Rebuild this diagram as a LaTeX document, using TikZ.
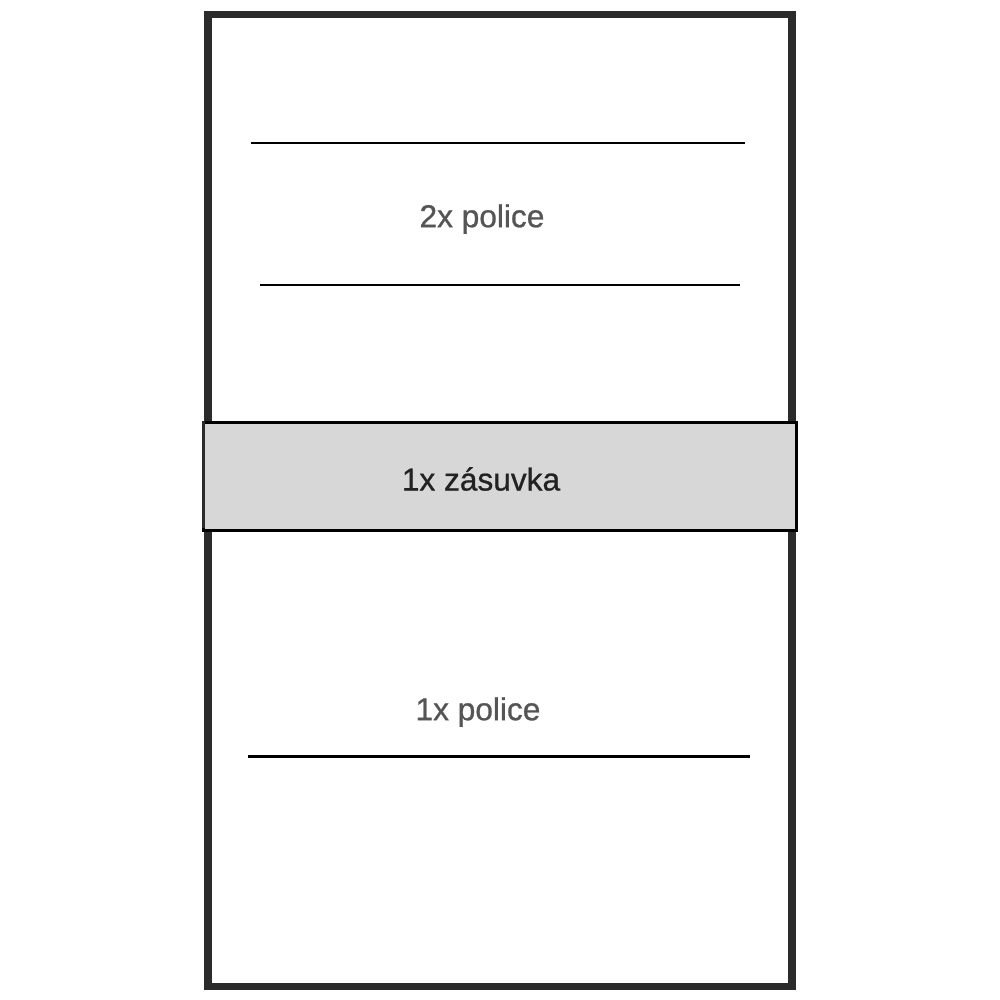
\documentclass[tikz,border=0pt]{standalone}
\usepackage{fontspec}
\setmainfont{Liberation Sans}
\definecolor{frame}{HTML}{2B2B2B}
\definecolor{drawerfill}{HTML}{D7D7D7}
\definecolor{lbl}{HTML}{555555}
\definecolor{lbldark}{HTML}{222222}
\begin{document}
\begin{tikzpicture}[x=0.01cm,y=-0.01cm,
  shelf/.style={line width=0.85pt,black},
  label/.style={font=\fontsize{9}{10}\selectfont\addfontfeatures{FakeBold=0.8},text=lbl,inner sep=0pt},
  darklabel/.style={font=\fontsize{9}{10}\selectfont\addfontfeatures{FakeBold=0.8},text=lbldark,inner sep=0pt}]
\useasboundingbox (0,0) rectangle (1000,1000);
\fill[white] (0,0) rectangle (1000,1000);
% outer cabinet
\draw[frame,line width=2.2pt] (208,14.5) rectangle (792,986.5);
% drawer
\node[draw=black,fill=drawerfill,line width=0.85pt,rectangle,inner sep=0pt,
  minimum width=5.92cm,minimum height=1.075cm] (drawer) at (500,476.25) {};
\draw[frame,line width=0.9pt] (drawer.north west) ++(1,0) -- ++(0,107.5);
% shelves
\coordinate (s1a) at (251,143); \coordinate (s1b) at (745,143);
\coordinate (s2a) at (260,285); \coordinate (s2b) at (740,285);
\coordinate (s3a) at (248,756); \coordinate (s3b) at (750,756);
\draw[shelf] (s1a) -- (s1b);
\draw[shelf] (s2a) -- (s2b);
\draw[shelf] (s3a) -- (s3b);
% labels
\node[label] (t1) at (482,219) {2x police};
\node[darklabel] (t2) at (481,479) {1x zásuvka};
\node[label] (t3) at (478,712) {1x police};
\end{tikzpicture}
\end{document}
